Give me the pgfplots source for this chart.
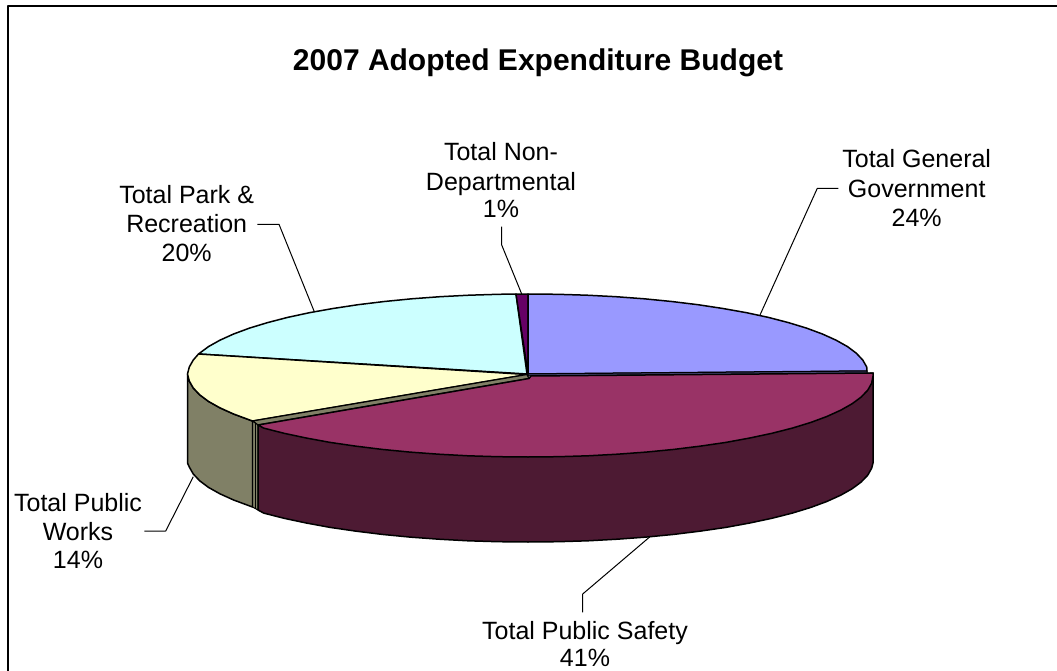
\documentclass[border=0pt]{standalone}
\usepackage{fontspec}
\setmainfont{Liberation Sans}
\usepackage{pgfplots}
\pgfplotsset{compat=1.18}
\definecolor{govtop}{HTML}{9999FF}
\definecolor{govside}{HTML}{4D4D80}
\definecolor{safetop}{HTML}{993366}
\definecolor{safeside}{HTML}{4D1A33}
\definecolor{workstop}{HTML}{FFFFCC}
\definecolor{worksside}{HTML}{808066}
\definecolor{parktop}{HTML}{CCFFFF}
\definecolor{nondept}{HTML}{660066}
% one line of a slice label, centred on x with its baseline at y
\newcommand\lbl[3]{\node[anchor=base,inner sep=0pt,font=\fontsize{25}{29}\selectfont] at (axis cs:#1,#2) {#3};}
\begin{document}
\begin{tikzpicture}
\useasboundingbox (0,0) rectangle (1057pt,671pt);
\begin{axis}[
  at={(0,0)},anchor=south west,
  scale only axis,width=1057pt,height=671pt,
  xmin=0,xmax=1057,ymin=0,ymax=671,y dir=reverse,
  hide axis,clip=true,
  every axis plot/.append style={no markers,line join=round,forget plot},
  slice/.style={draw=black,line width=1.5pt},
  leader/.style={draw=black,line width=1pt},
]
% outer frame: only the top and left edges fall inside the page
\addplot[draw=black,line width=2pt] coordinates {(7.5,671) (7.5,6.5) (1057,6.5)};

% Total Park & Recreation, top face
\addplot[slice,fill=parktop] coordinates {
 (527,374) (198.5,354) (208.5,346.6) (219.9,340.2) (233.6,334) (249.5,328.1)
 (267.6,322.6) (287.6,317.4) (309.4,312.7) (333,308.5) (358,304.7) (384.3,301.5)
 (411.7,298.8) (440,296.7) (469,295.2) (498.4,294.3) (516,294)} -- cycle;
% Total Non-Departmental, top face
\addplot[slice,fill=nondept] coordinates {(516,294) (528,294) (528,374)} -- cycle;
% Total General Government, top face and cut edge
\addplot[slice,fill=govtop] coordinates {
 (528,374) (528,294) (557.6,294.3) (587,295.2) (616,296.7) (644.3,298.8) (671.7,301.5)
 (698,304.7) (723,308.5) (746.6,312.7) (768.4,317.4) (788.4,322.6) (806.5,328.1)
 (822.4,334) (836.1,340.2) (847.5,346.6) (856.4,353.3) (862.8,360.1) (866.7,367)
 (867,371)} -- cycle;
\addplot[draw=black,line width=1pt,fill=govside] coordinates {(528,374) (867,371) (867,373.5) (528,376)} -- cycle;

% Total Public Works, outer side
\addplot[slice,fill=worksside] coordinates {
 (187.5,374) (189.3,381) (193.2,387.9) (199.6,394.7) (208.5,401.4) (219.9,407.8)
 (233.6,414) (249.5,419.9) (252.5,421) (252.5,507) (249.5,505.9) (233.6,500)
 (219.9,493.8) (208.5,487.4) (199.6,480.7) (193.2,473.9) (189.3,467) (187.5,463)} -- cycle;
% Total Public Works, top face
\addplot[slice,fill=workstop] coordinates {
 (527,374.5) (198.5,354) (193.2,360.1) (189.3,367) (187.5,374) (189.3,381) (193.2,387.9)
 (199.6,394.7) (208.5,401.4) (219.9,407.8) (233.6,414) (249.5,419.9) (252.5,421)} -- cycle;
% Total Public Works, cut wall
\addplot[draw=black,line width=1.2pt,fill=worksside] coordinates {(527,374.5) (252.5,421) (258,425) (529,378.5)} -- cycle;
\addplot[draw=black,line width=1pt,fill=worksside] coordinates {(252.5,421) (258,425) (258,510) (252.5,507)} -- cycle;
\addplot[draw=black,line width=1pt] coordinates {(255,423) (255,508.5)};

% Total Public Safety, outer side
\addplot[slice,fill=safeside] coordinates {
 (873,373) (873,463) (871.7,468.1) (867.8,475.1) (861.2,482) (852.2,488.7) (840.7,495.2)
 (826.8,501.5) (810.6,507.5) (792.3,513.1) (771.9,518.3) (749.8,523) (725.9,527.4)
 (700.5,531.1) (673.8,534.4) (646,537.1) (617.3,539.2) (587.9,540.8) (558.1,541.7)
 (528,542) (497.9,541.7) (468.1,540.8) (438.7,539.2) (410,537.1) (382.2,534.4)
 (355.5,531.1) (330.1,527.4) (306.2,523) (284.1,518.3) (263.7,513.1) (258,510) (258,425)} -- cycle;
% Total Public Safety, top face
\addplot[slice,fill=safetop] coordinates {
 (529,378.5) (531,376) (873,373) (873,376) (871.7,383.1) (867.8,390.1) (861.2,397) (852.2,403.7)
 (840.7,410.2) (826.8,416.5) (810.6,422.5) (792.3,428.1) (771.9,433.3) (749.8,438)
 (725.9,442.4) (700.5,446.1) (673.8,449.4) (646,452.1) (617.3,454.2) (587.9,455.8)
 (558.1,456.7) (528,457) (497.9,456.7) (468.1,455.8) (438.7,454.2) (410,452.1)
 (382.2,449.4) (355.5,446.1) (330.1,442.4) (306.2,438) (284.1,433.3) (263.7,428.1) (258,425)} -- cycle;

% leader lines
\addplot[leader] coordinates {(760,315) (817.3,188.3) (838.3,188.3)};
\addplot[leader] coordinates {(314.3,311.7) (279,224.3) (257.3,224.3)};
\addplot[leader] coordinates {(521.7,294) (501.7,245) (501.7,226.7)};
\addplot[leader] coordinates {(193.3,476.7) (165.7,531) (144.3,531)};
\addplot[leader] coordinates {(650,536.7) (582.7,594) (582.7,612.3)};

% title and slice labels
\node[anchor=base,inner sep=0pt,font=\fontsize{30}{34}\selectfont\bfseries] at (axis cs:538,70.5) {2007 Adopted Expenditure Budget};
\lbl{916.7}{168}{Total General}
\lbl{916.7}{197}{Government}
\lbl{916.7}{226}{24\%}
\lbl{186.7}{204}{Total Park \&}
\lbl{186.7}{232.7}{Recreation}
\lbl{186.7}{261}{20\%}
\lbl{501}{161}{Total Non-}
\lbl{501}{190}{Departmental}
\lbl{501}{218}{1\%}
\lbl{78}{511.7}{Total Public}
\lbl{78}{540}{Works}
\lbl{78}{568.5}{14\%}
\lbl{585}{639.5}{Total Public Safety}
\lbl{585}{666}{41\%}
\end{axis}
\end{tikzpicture}
\end{document}
